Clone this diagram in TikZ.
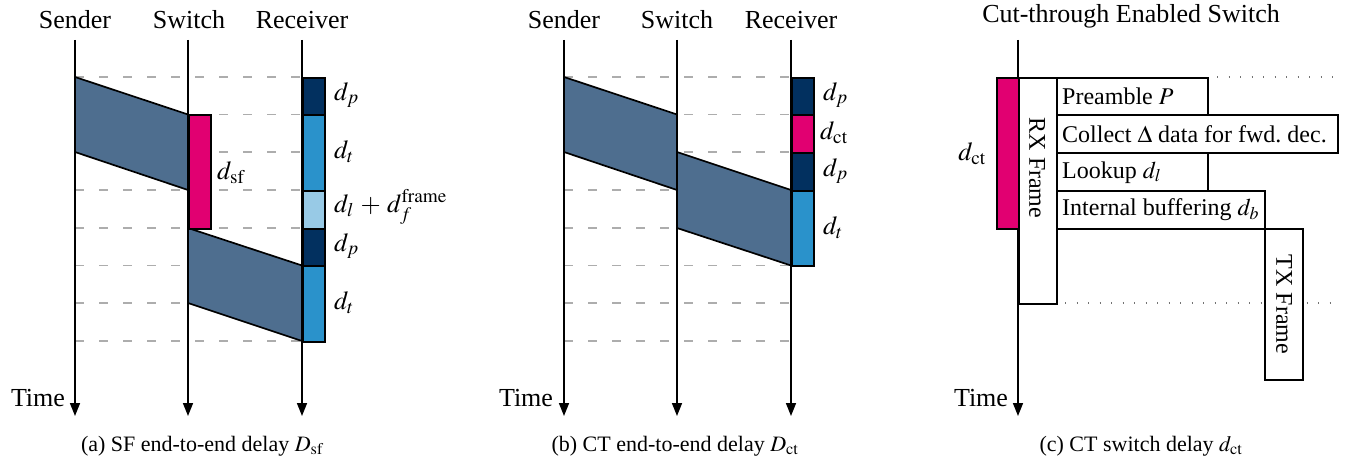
\documentclass[tikz,border=0pt]{standalone}
\usepackage{mathptmx}
\usepackage{fontspec}
\setmainfont{Liberation Serif}
\usetikzlibrary{arrows.meta}

\definecolor{steel}{RGB}{78,110,143}
\definecolor{pinkc}{RGB}{225,0,113}
\definecolor{navy}{RGB}{2,48,95}
\definecolor{midblue}{RGB}{42,146,203}
\definecolor{lightblue}{RGB}{152,202,230}

\begin{document}
\begin{tikzpicture}[x=1pt,y=-1pt,
  every node/.style={font=\fontsize{26}{31}\selectfont, inner sep=0pt},
  life/.style={line width=1.6pt, -{Triangle[length=13pt,width=10pt]}},
  gridline/.style={black!32, line width=1.3pt, dash pattern=on 9pt off 15pt},
  dotline/.style={black!55, line width=1.3pt, dash pattern=on 1.3pt off 10.2pt},
  pkt/.style={draw, line width=1.7pt, fill=steel, line join=miter},
  seg/.style={draw, line width=2pt, minimum width=22pt, anchor=north west},
  cbox/.style={draw, line width=2pt, fill=white, anchor=north west},
  lbl/.style={anchor=west},
  boxtext/.style={anchor=west, font=\fontsize{24}{29}\selectfont},
  caption/.style={font=\fontsize{22}{27}\selectfont},
]
\useasboundingbox (0,0) rectangle (1347,462);

% ---------------- (a) store-and-forward ----------------
\node (hsa) at (75,20) {Sender};
\node (hwa) at (189,20) {Switch};
\node (hra) at (302,20) {Receiver};
\coordinate (sat) at (75,40);  \coordinate (sab) at (75,416);
\coordinate (wat) at (188,40); \coordinate (wab) at (188,416);
\coordinate (rat) at (302,40); \coordinate (rab) at (302,416);

\foreach \y in {77,114.5,152,190,228,265.5,303,341}
  \draw[gridline] (75,\y) -- (302,\y);

\draw[pkt] (75,77) -- (188,114.5) -- (188,190) -- (75,152) -- cycle;
\draw[pkt] (188,228) -- (302,265.5) -- (302,341) -- (188,303) -- cycle;

\draw[life] (sat) -- (sab);
\draw[life] (wat) -- (wab);
\draw[life] (rat) -- (rab);

\node[seg, fill=pinkc, minimum height=113.5pt] (sfa) at (188,114.5) {};
\node[seg, fill=navy, minimum height=37.5pt] (ra1) at (302,77) {};
\node[seg, fill=midblue, minimum height=75.5pt] (ra2) at (302,114.5) {};
\node[seg, fill=lightblue, minimum height=38pt] (ra3) at (302,190) {};
\node[seg, fill=navy, minimum height=37.5pt] (ra4) at (302,228) {};
\node[seg, fill=midblue, minimum height=75.5pt] (ra5) at (302,265.5) {};

\node[lbl] at (217,173) {$d_{\mathrm{sf}}$};
\node[lbl] at (334,95) {$d_p$};
\node[lbl] at (334,152) {$d_t$};
\node[lbl] at (334,207) {$d_l \mathbin{\,+\,} d_f^{\mathrm{frame}}$};
\node[lbl] at (334,246) {$d_p$};
\node[lbl] at (334,303) {$d_t$};

\node (tla) at (38,398) {Time};
\node[caption] (capa) at (202,446) {(a) SF end-to-end delay $D_{\mathrm{sf}}$};

% ---------------- (b) cut-through ----------------
\node (hsb) at (564,20) {Sender};
\node (hwb) at (677,20) {Switch};
\node (hrb) at (791,20) {Receiver};
\coordinate (sbt) at (564,40); \coordinate (sbb) at (564,416);
\coordinate (wbt) at (677,40); \coordinate (wbb) at (677,416);
\coordinate (rbt) at (791,40); \coordinate (rbb) at (791,416);

\foreach \y in {77,114.5,152,190,228,265.5,303,341}
  \draw[gridline] (564,\y) -- (791,\y);

\draw[pkt] (564,77) -- (677,114.5) -- (677,190) -- (564,152) -- cycle;
\draw[pkt] (677,152) -- (791,190) -- (791,265.5) -- (677,228) -- cycle;

\draw[life] (sbt) -- (sbb);
\draw[life] (wbt) -- (wbb);
\draw[life] (rbt) -- (rbb);

\node[seg, fill=navy, minimum height=37.5pt] (rb1) at (791,77) {};
\node[seg, fill=pinkc, minimum height=37.5pt] (rb2) at (791,114.5) {};
\node[seg, fill=navy, minimum height=38pt] (rb3) at (791,152) {};
\node[seg, fill=midblue, minimum height=75.5pt] (rb4) at (791,190) {};

\node[lbl] at (823,95) {$d_p$};
\node[lbl] at (820,133) {$d_{\mathrm{ct}}$};
\node[lbl] at (823,171) {$d_p$};
\node[lbl] at (823,228) {$d_t$};

\node (tlb) at (526,398) {Time};
\node[caption] (capb) at (675,446) {(b) CT end-to-end delay $D_{\mathrm{ct}}$};

% ---------------- (c) switch internals ----------------
\node (hc) at (1131,16) {Cut-through Enabled Switch};
\coordinate (ct) at (1018,40); \coordinate (cb) at (1018,416);

\draw[dotline] (1217,77) -- (1337,77);
\draw[dotline] (1065,303) -- (1337,303);

\draw[life] (ct) -- (cb);

\node[cbox, fill=pinkc, minimum width=22pt, minimum height=151pt] (dct) at (996,77) {};
\node[cbox, minimum width=38pt, minimum height=226pt] (rx) at (1018,77) {};
\node[rotate=-90, font=\fontsize{24}{29}\selectfont] at (1037,168) {RX Frame};

\node[cbox, minimum width=151pt, minimum height=37.5pt] (pre) at (1056,77) {};
\node[cbox, minimum width=281pt, minimum height=38pt] (col) at (1056,114.5) {};
\node[cbox, minimum width=151pt, minimum height=37.5pt] (lku) at (1056,152.5) {};
\node[cbox, minimum width=208pt, minimum height=38pt] (buf) at (1056,190) {};
\node[cbox, minimum width=38pt, minimum height=151pt] (tx) at (1264,228) {};
\node[rotate=-90, font=\fontsize{24}{29}\selectfont] at (tx.center) {TX Frame};

\node[boxtext] at ([xshift=6pt]pre.west) {Preamble $P$};
\node[boxtext] at ([xshift=6pt]col.west) {Collect $\Delta$ data for fwd.\ dec.};
\node[boxtext] at ([xshift=6pt]lku.west) {Lookup $d_l$};
\node[boxtext] at ([xshift=6pt]buf.west) {Internal buffering $d_b$};

\node at (972,154) {$d_{\mathrm{ct}}$};
\node (tlc) at (981,398) {Time};
\node[caption] (capc) at (1141,446) {(c) CT switch delay $d_{\mathrm{ct}}$};
\end{tikzpicture}
\end{document}
